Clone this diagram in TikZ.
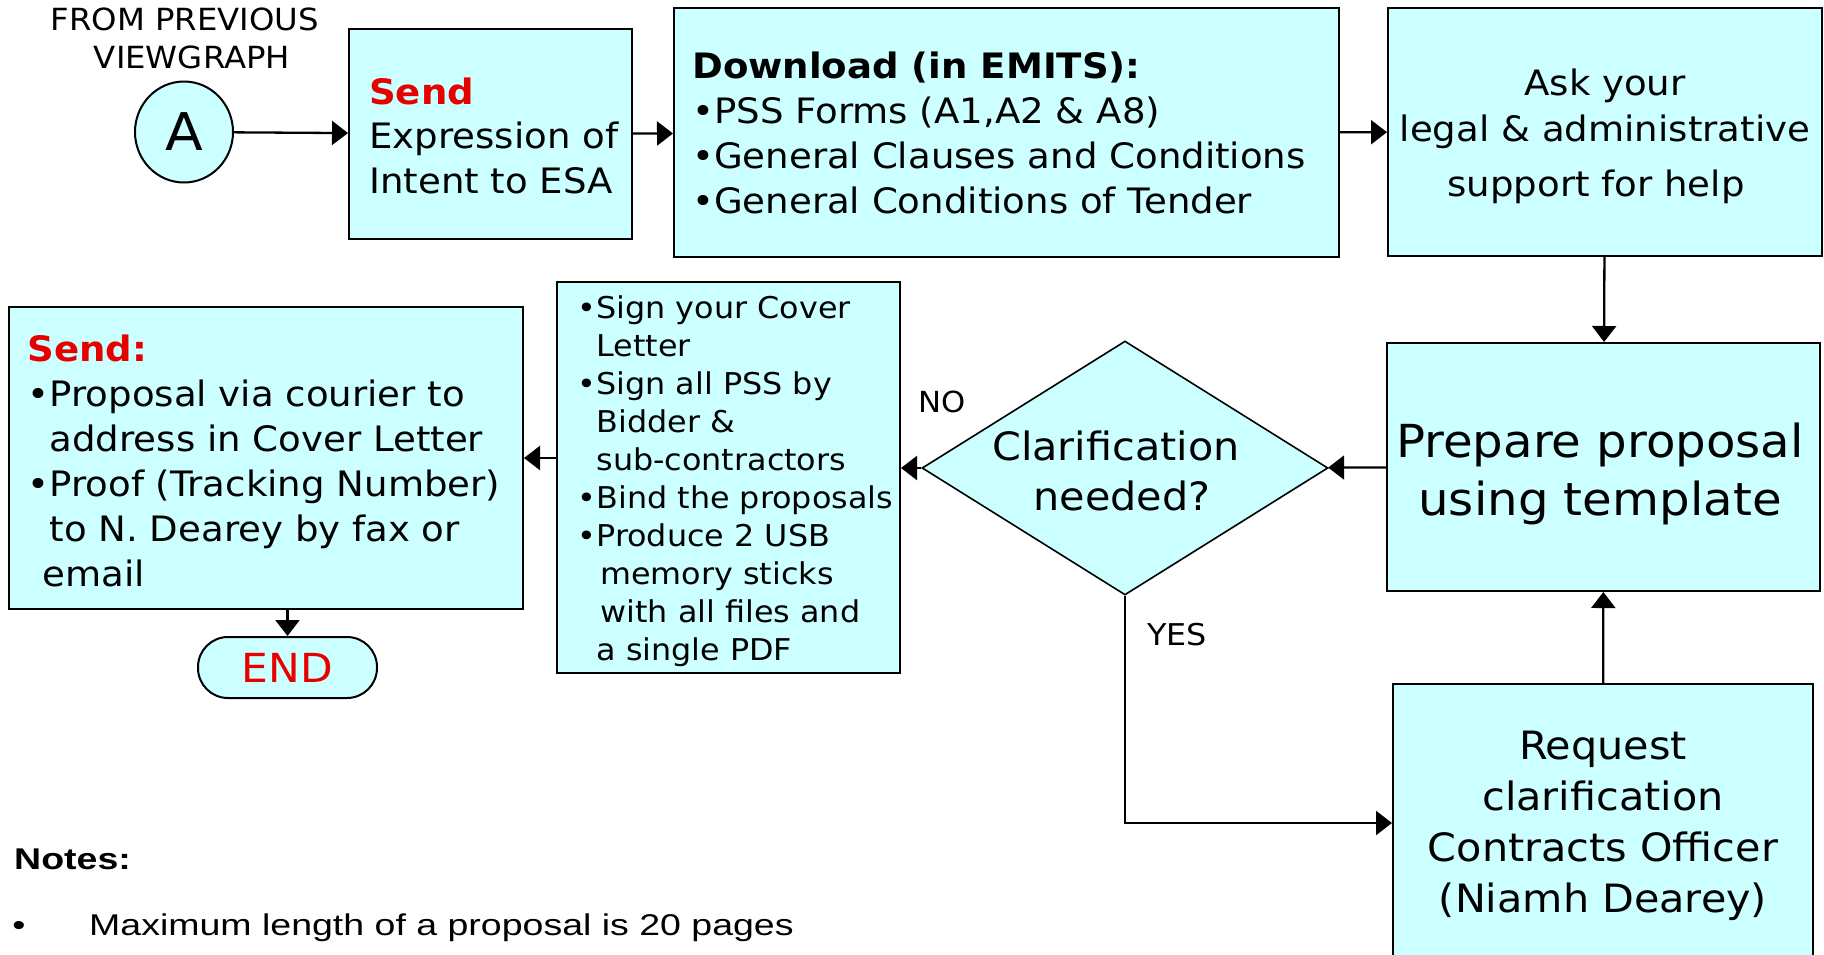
\documentclass[tikz,border=0pt]{standalone}
\usepackage{fontspec}
\setmainfont{DejaVu Sans}[FakeStretch=1.06]
\newfontfamily\notesfont{Liberation Sans}[FakeStretch=1.25]
\usetikzlibrary{shapes.geometric,arrows.meta,fit}

\definecolor{boxfill}{RGB}{204,255,255}
\definecolor{alertred}{RGB}{230,0,0}

% font size / baseline skip in one go
\newcommand{\fs}[2]{\fontsize{#1pt}{#2pt}\selectfont}
% indent matching a leading bullet
\newcommand{\hang}{\hphantom{•}}
% invisible strut of a given width, used to nudge centred lines
\newcommand{\nudge}[1]{\rule{#1}{0pt}}

\begin{document}
\begin{tikzpicture}[x=1pt,y=-1pt,
  panel/.style={draw=black,line width=2pt,fill=boxfill,inner sep=0pt},
  % multi-line texts are placed by the baseline of their last line
  txt/.style={inner sep=0pt,anchor=base west,align=left},
  ctxt/.style={inner sep=0pt,anchor=base,align=center},
  arr/.style={line width=2.3pt,-{Triangle[length=16pt,width=24pt]}}]

\useasboundingbox (0,0) rectangle (1824,954);

% ---- top row -------------------------------------------------------
\node[ctxt,font=\fs{30.5}{38}] (fromlbl) at (185,68) {FROM PREVIOUS\\\nudge{14pt}VIEWGRAPH};
\node[ellipse,panel,minimum width=98pt,minimum height=101pt,font=\fs{52}{52}] (A) at (184,132) {A};

\node[panel,fit={(349,29) (632,239)}] (send) {};
\node[txt,font=\fs{35}{44.5}] (sendtxt) at (369,193)
  {\textcolor{alertred}{\bfseries Send}\\Expression of\\Intent to ESA};

\node[panel,fit={(674,8) (1339,257)}] (dl) {};
\node[txt,font=\fs{35}{45}] (dltxt) at (692,213)
  {\textbf{Download (in EMITS):}\\•PSS Forms (A1,A2 \& A8)\\•General Clauses and Conditions\\•General Conditions of Tender};

\node[panel,fit={(1388,8) (1822,256)}] (ask) {};
\node[ctxt,font=\fs{35}{46}] (asktxt) at (1605,196)
  {Ask your\\legal \& administrative\\[9pt]support for help\nudge{18pt}};

% ---- middle row ----------------------------------------------------
\node[panel,fit={(1387,343) (1820,591)}] (prep) {};
\node[ctxt,font=\fs{45.5}{58}] (preptxt) at (1600,515) {Prepare proposal\\using template};

\node[diamond,panel,line width=1.6pt,minimum width=406pt,minimum height=254pt] (dia) at (1125,468) {};
\node[ctxt,font=\fs{39}{50}] (diatxt) at (1116,510) {Clarification\\\nudge{12pt}needed?};

\node[txt,font=\fs{29}{29}] (nolbl) at (918,412) {NO};
\node[txt,font=\fs{30}{30}] (yeslbl) at (1147,645) {YES};

\node[panel,fit={(557,282) (900,673)}] (sign) {};
\node[txt,font=\fs{30}{38}] (signtxt) at (577.5,660)
  {•Sign your Cover\\
   \hang Letter\\
   •Sign all PSS by\\
   \hang Bidder \&\\
   \hang sub-contractors\\
   •Bind the proposals\\
   •Produce 2 USB\\
   \hang\hspace{4pt}memory sticks\\
   \hang\hspace{4pt}with all files and\\
   \hang a single PDF};

\node[panel,fit={(9,307) (523,609)}] (sendc) {};
\node[txt,font=\fs{35}{45}] (sendctxt) at (27.5,586)
  {\textcolor{alertred}{\bfseries Send:}\\
   •Proposal via courier to\\
   \hang address in Cover Letter\\
   •Proof (Tracking Number)\\
   \hang to N. Dearey by fax or\\
   \hspace{15pt}email};

\node[panel,rounded corners=30pt,minimum width=179pt,minimum height=61pt,
      text=alertred,font=\fs{40}{40}] (endn) at (287.5,667.5) {END};

% ---- bottom right --------------------------------------------------
\node[panel,fit={(1393,684) (1813,962)}] (req) {};
\node[ctxt,font=\fs{39}{50.7}] (reqtxt) at (1603,912)
  {Request\\clarification\\Contracts Officer\\(Niamh Dearey)};

% ---- notes ---------------------------------------------------------
\node[txt,font=\notesfont\bfseries\fs{30}{30}] (notes) at (14,869) {Notes:};
\node[inner sep=0pt,anchor=base,font=\notesfont\fs{30}{30}] (notebul) at (19,935) {•};
\node[txt,font=\notesfont\fs{30}{30}] (note1) at (89,935) {Maximum length of a proposal is 20 pages};

% ---- connectors ----------------------------------------------------
\draw[arr] (A) -- (send);
\draw[arr] (send) -- (dl);
\draw[arr] (dl) -- (ask);
\draw[arr] (ask) -- (prep);
\draw[arr] (prep) -- (dia);
\draw[arr] (dia.west) -- (dia.west -| sign.east);
\draw[arr] (sendc.east -| sign.west) -- (sendc.east);
\draw[arr] (endn.north |- sendc.south) -- (endn.north);
\draw[arr] (dia.south) |- (req.west);
\draw[arr] (req) -- (prep);
\end{tikzpicture}
\end{document}
